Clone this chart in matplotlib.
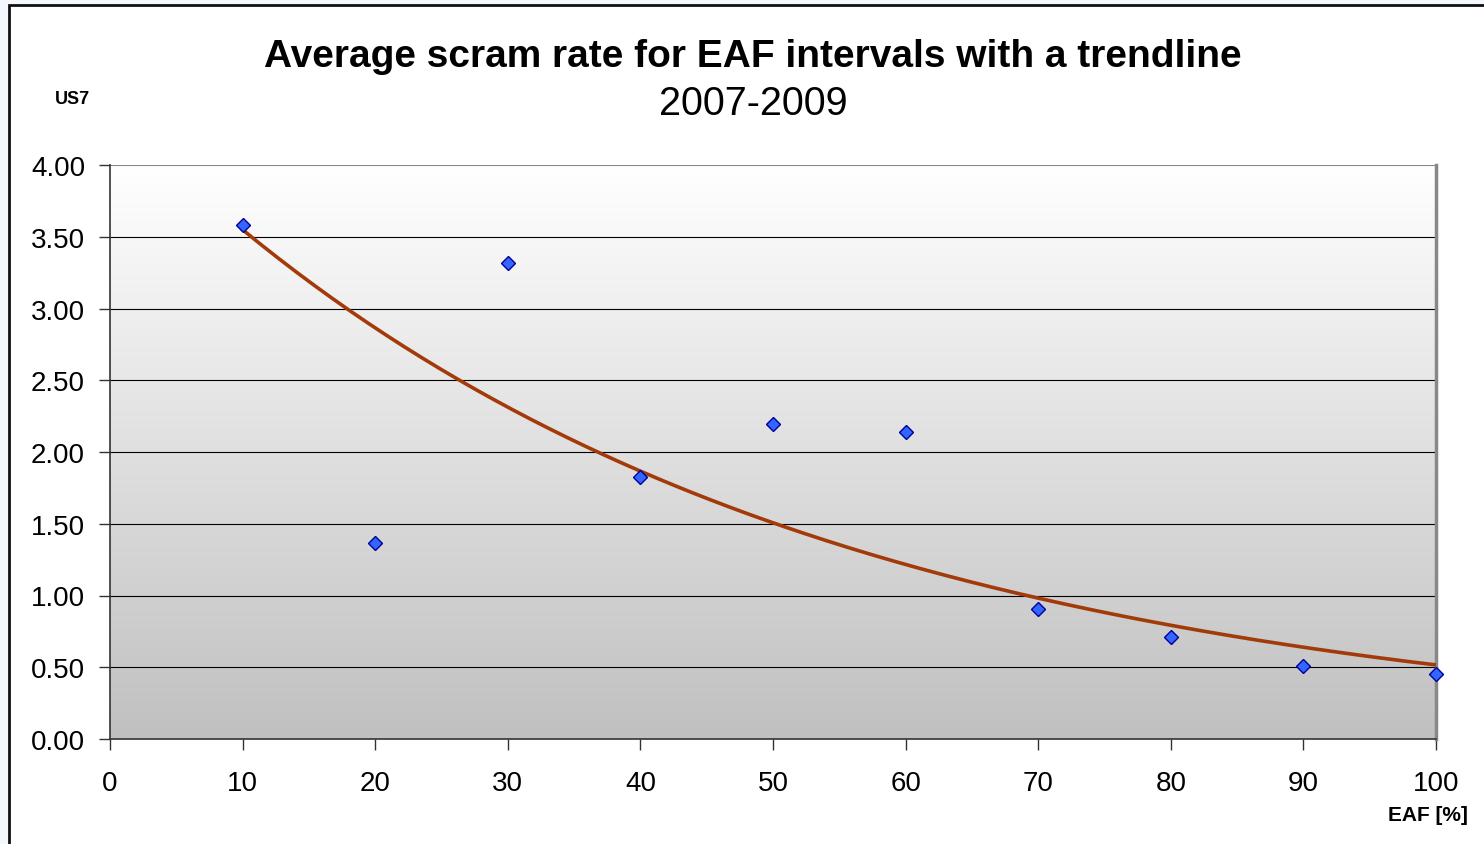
import numpy as np
import matplotlib
matplotlib.use("Agg")
import matplotlib.pyplot as plt
from matplotlib.patches import Rectangle
from matplotlib.colors import LinearSegmentedColormap

plt.rcParams['font.family'] = ['Liberation Sans', 'DejaVu Sans']

# Data
eaf = [10, 20, 30, 40, 50, 60, 70, 80, 90, 100]
scram_rate = [3.58, 1.366, 3.317, 1.826, 2.195, 2.139, 0.906, 0.711, 0.509, 0.453]
x_ticks = [0, 10, 20, 30, 40, 50, 60, 70, 80, 90, 100]
y_ticks = [0.0, 0.5, 1.0, 1.5, 2.0, 2.5, 3.0, 3.5, 4.0]

title = "Average scram rate for EAF intervals with a trendline"
subtitle = "2007-2009"

W, H = 1484, 845
fig = plt.figure(figsize=(W / 100, H / 100), dpi=100)
fig.patch.set_facecolor('#f4f7fb')

# chart area frame
fig.patches.append(Rectangle((9 / W, -0.05), 1.2, 1 - 6 / H + 0.05,
                             transform=fig.transFigure, facecolor='white',
                             edgecolor='#111111', linewidth=2, zorder=-5))

left, right = 110 / W, 1436 / W
bottom, top = 1 - 740 / H, 1 - 166 / H
ax = fig.add_axes([left, bottom, right - left, top - bottom])
ax.set_zorder(2)
ax.set_xlim(0, 100)
ax.set_ylim(0, 4)

# gradient background
grad = np.linspace(1, 0, 256).reshape(-1, 1)
cmap = LinearSegmentedColormap.from_list('g', ['#c0c0c0', '#ffffff'])
ax.imshow(grad, extent=[0, 100, 0, 4], aspect='auto', cmap=cmap,
          vmin=0, vmax=1, zorder=0, origin='upper')

for yv in y_ticks[1:-1]:
    ax.axhline(yv, color='#000000', linewidth=0.8, zorder=1)
ax.axhline(4.0, color='#888888', linewidth=1.5, zorder=1)

# trendline (exponential fit)
b, ln_a = np.polyfit(eaf, np.log(scram_rate), 1)
xt = np.linspace(min(eaf), max(eaf), 200)
ax.plot(xt, np.exp(ln_a + b * xt), color='#a33a0a', linewidth=2.6, zorder=3)

ax.plot(eaf, scram_rate, linestyle='none', marker='D', markersize=7.5,
        markerfacecolor='#3366ff', markeredgecolor='#000099',
        markeredgewidth=1.0, zorder=4, clip_on=False)

ax.set_xticks(x_ticks)
ax.set_yticks(y_ticks)
ax.set_yticklabels([f"{v:.2f}" for v in y_ticks])
ax.tick_params(axis='both', direction='out', length=8, width=1,
               color='#333333', labelsize=20, labelcolor='black')
ax.tick_params(axis='x', pad=14)
ax.tick_params(axis='y', pad=10)

for s in ['left', 'bottom']:
    ax.spines[s].set_color('#333333')
    ax.spines[s].set_linewidth(1.2)
ax.spines['top'].set_visible(False)
ax.spines['right'].set_color('#888888')
ax.spines['right'].set_linewidth(2.5)

fig.text(753 / W, 1 - 57 / H, title, ha='center', va='center',
         fontsize=28, fontweight='bold')
fig.text(753 / W, 1 - 104 / H, subtitle, ha='center', va='center',
         fontsize=28.5)
fig.text(72 / W, 1 - 100 / H, "US7", ha='center', va='center',
         fontsize=13, fontweight='bold')
fig.text(1468 / W, 1 - 816 / H, "EAF [%]", ha='right', va='center',
         fontsize=15, fontweight='bold')

fig.savefig('out.png', dpi=100, facecolor=fig.get_facecolor())
